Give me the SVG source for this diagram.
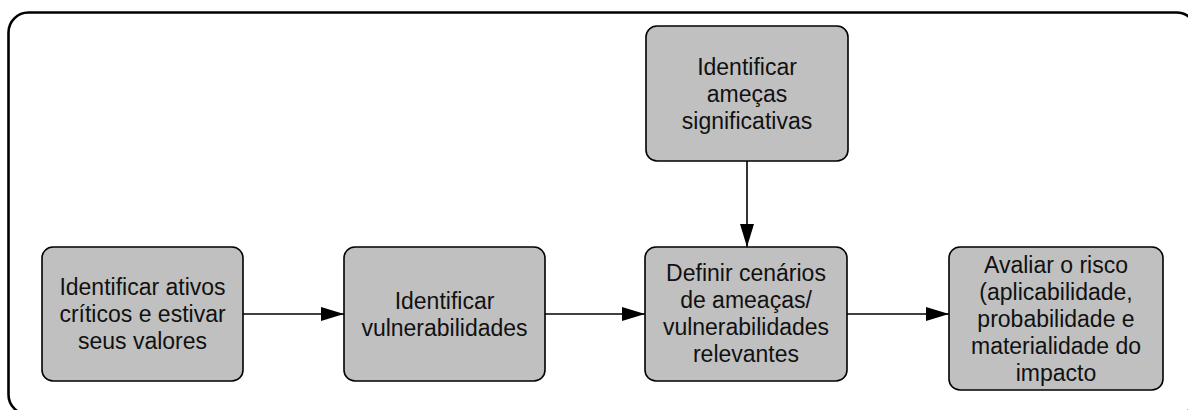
<svg xmlns="http://www.w3.org/2000/svg" width="1188" height="410" viewBox="0 0 1188 410">
  <style>
    .box { fill: #c0c0c0; stroke: #000; stroke-width: 1.6; }
    .lbl { font-family: "Liberation Sans", Arial, sans-serif; font-size: 23px; fill: #111; text-anchor: middle; }
    .conn { stroke: #000; stroke-width: 1.6; fill: none; marker-end: url(#arrow); }
    .frame { fill: none; stroke: #000; stroke-width: 2.6; }
  </style>
  <defs>
    <marker id="arrow" markerUnits="userSpaceOnUse" markerWidth="24" markerHeight="14" refX="23" refY="7" orient="auto">
      <path d="M0,0 L23,7 L0,14 Z" fill="#000"/>
    </marker>
  </defs>

  <rect width="1188" height="410" fill="#fff"/>

  <!-- outer frame, runs past the right and bottom edges -->
  <rect class="frame" x="8.5" y="12.5" width="1188" height="402" rx="20" ry="20"/>

  <g id="connectors">
    <line class="conn" x1="243" y1="314" x2="344" y2="314"/>
    <line class="conn" x1="545" y1="314" x2="645" y2="314"/>
    <line class="conn" x1="847" y1="314" x2="949" y2="314"/>
    <line class="conn" x1="747" y1="161" x2="747" y2="247"/>
  </g>

  <g id="node-ativos">
    <rect class="box" x="42" y="247" width="201" height="134" rx="11"/>
    <text class="lbl" x="142.5" y="295">Identificar ativos</text>
    <text class="lbl" x="142.5" y="322">críticos e estivar</text>
    <text class="lbl" x="142.5" y="349">seus valores</text>
  </g>

  <g id="node-vulnerabilidades">
    <rect class="box" x="344" y="247" width="201" height="134" rx="11"/>
    <text class="lbl" x="444.5" y="308.5">Identificar</text>
    <text class="lbl" x="444.5" y="335.5">vulnerabilidades</text>
  </g>

  <g id="node-ameacas">
    <rect class="box" x="646" y="26" width="202" height="135" rx="11"/>
    <text class="lbl" x="747" y="75">Identificar</text>
    <text class="lbl" x="747" y="102">ameças</text>
    <text class="lbl" x="747" y="129">significativas</text>
  </g>

  <g id="node-cenarios">
    <rect class="box" x="645" y="247" width="202" height="134" rx="11"/>
    <text class="lbl" x="746" y="281">Definir cenários</text>
    <text class="lbl" x="746" y="308">de ameaças/</text>
    <text class="lbl" x="746" y="335">vulnerabilidades</text>
    <text class="lbl" x="746" y="362">relevantes</text>
  </g>

  <g id="node-risco">
    <rect class="box" x="949" y="247" width="214" height="143" rx="11"/>
    <text class="lbl" x="1056" y="273">Avaliar o risco</text>
    <text class="lbl" x="1056" y="300">(aplicabilidade,</text>
    <text class="lbl" x="1056" y="327">probabilidade e</text>
    <text class="lbl" x="1056" y="354">materialidade do</text>
    <text class="lbl" x="1056" y="381">impacto</text>
  </g>
</svg>
